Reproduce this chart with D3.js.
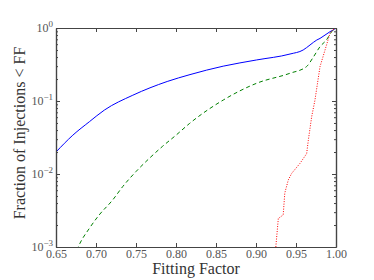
<!DOCTYPE html>
<html>
<head>
<meta charset="utf-8">
<script src="https://cdn.jsdelivr.net/npm/d3@7"></script>
<style>
  body { margin: 0; background: #fff; }
</style>
</head>
<body>
<div id="vis"></div>
<script>
// fitting factor curves
var blueX = [0.65, 0.671, 0.6917, 0.7104, 0.746, 0.789, 0.8175, 0.859, 0.9008, 0.9425, 0.959, 0.9675, 0.976, 0.98, 0.9925, 0.9966, 1.0];
var blueY = [0.020, 0.034, 0.052, 0.075, 0.12, 0.185, 0.23, 0.30, 0.365, 0.44, 0.50, 0.585, 0.685, 0.72, 0.89, 0.94, 1.0];

var greenX = [0.676, 0.679, 0.6917, 0.704, 0.7208, 0.7333, 0.75, 0.7667, 0.7833, 0.80, 0.8167, 0.859, 0.9008, 0.9425, 0.963, 0.9717, 0.98, 0.988, 0.9946, 1.0];
var greenY = [0.0009, 0.00107, 0.0018, 0.00275, 0.0044, 0.0067, 0.0108, 0.0164, 0.024, 0.034, 0.049, 0.103, 0.175, 0.24, 0.295, 0.40, 0.555, 0.685, 0.89, 1.0];

var redX = [0.9248, 0.925, 0.9279, 0.934, 0.936, 0.9404, 0.9446, 0.955, 0.9633, 0.9654, 0.9696, 0.9737, 0.98, 0.9863, 0.9925, 0.9958, 1.0];
var redY = [0.001, 0.00107, 0.00246, 0.00275, 0.0055, 0.0083, 0.0102, 0.014, 0.019, 0.029, 0.061, 0.103, 0.295, 0.50, 0.845, 0.94, 1.0];

var xTicks = [0.65, 0.70, 0.75, 0.80, 0.85, 0.90, 0.95, 1.00];
var yTicks = [1e-3, 1e-2, 1e-1, 1];
var yExp = ["\u22123", "\u22122", "\u22121", "0"];

var width = 374, height = 280;
var margin = {top: 28, right: 38, bottom: 33, left: 56};
var serif = "Liberation Serif";

var svg = d3.select("#vis").append("svg").attr("width", width).attr("height", height);

var x = d3.scaleLinear().domain([0.65, 1.0]).range([margin.left, width - margin.right]);
var y = d3.scaleLog().domain([1e-3, 1]).range([height - margin.bottom, margin.top]);

//clip for curves
svg.append("clipPath").attr("id", "clip").append("rect")
    .attr("x", margin.left).attr("y", margin.top)
    .attr("width", width - margin.left - margin.right)
    .attr("height", height - margin.top - margin.bottom);

function zip(a, b) {
    return a.map((v, i) => [v, b[i]]);
}

var series = [
    {data: zip(blueX, blueY), color: "#0000ff", dash: null, curve: d3.curveMonotoneX},
    {data: zip(greenX, greenY), color: "#008000", dash: "4,3", curve: d3.curveMonotoneX},
    {data: zip(redX, redY), color: "#ff0000", dash: "1,1.5", curve: d3.curveLinear}
];

var plot = svg.append("g").attr("clip-path", "url(#clip)");
series.forEach(s => {
    var line = d3.line().x(d => x(d[0])).y(d => y(d[1])).curve(s.curve);
    plot.append("path")
        .attr("d", line(s.data))
        .attr("fill", "none")
        .attr("stroke", s.color)
        .attr("stroke-width", 1)
        .attr("stroke-dasharray", s.dash);
});

//minor ticks on log axis
var minor = [];
for (var e = -3; e < 0; e++) {
    for (var m = 2; m < 10; m++) minor.push(m * Math.pow(10, e));
}

var axisColor = "#444";

var bottom = svg.append("g").attr("transform", "translate(0," + (height - margin.bottom) + ")")
    .call(d3.axisBottom(x).tickValues(xTicks).tickFormat(d3.format(".2f")).tickSizeInner(-4).tickSizeOuter(0).tickPadding(2));
svg.append("g").attr("transform", "translate(0," + margin.top + ")")
    .call(d3.axisTop(x).tickValues(xTicks).tickFormat("").tickSizeInner(-4).tickSizeOuter(0));

svg.append("g").attr("transform", "translate(" + margin.left + ",0)")
    .call(d3.axisLeft(y).tickValues(yTicks).tickFormat("").tickSizeInner(-4).tickSizeOuter(0));
svg.append("g").attr("transform", "translate(" + margin.left + ",0)")
    .call(d3.axisLeft(y).tickValues(minor).tickFormat("").tickSizeInner(-2).tickSizeOuter(0));
svg.append("g").attr("transform", "translate(" + (width - margin.right) + ",0)")
    .call(d3.axisRight(y).tickValues(yTicks).tickFormat("").tickSizeInner(-4).tickSizeOuter(0));
svg.append("g").attr("transform", "translate(" + (width - margin.right) + ",0)")
    .call(d3.axisRight(y).tickValues(minor).tickFormat("").tickSizeInner(-2).tickSizeOuter(0));

svg.selectAll(".domain").attr("stroke", axisColor).attr("stroke-width", 1.2);
svg.selectAll(".tick line").attr("stroke", axisColor);
bottom.selectAll("text").attr("font-size", 12).attr("fill", "#555").style("font-family", serif);

//y tick labels with exponents
yTicks.forEach((t, i) => {
    var txt = svg.append("text")
        .attr("x", margin.left - 3)
        .attr("y", y(t) + 4)
        .attr("text-anchor", "end")
        .attr("font-size", 12)
        .style("font-family", serif)
        .attr("fill", "#555");
    txt.append("tspan").text("10");
    txt.append("tspan").attr("dy", -5).attr("font-size", 9).text(yExp[i]);
});

//axis labels
svg.append("text")
    .attr("x", (margin.left + width - margin.right) / 2)
    .attr("y", 274)
    .attr("text-anchor", "middle")
    .attr("font-size", 16)
    .style("font-family", serif)
    .attr("fill", "#333")
    .text("Fitting Factor");

svg.append("text")
    .attr("transform", "translate(25," + 133 + ") rotate(-90)")
    .attr("text-anchor", "middle")
    .attr("font-size", 16)
    .style("font-family", serif)
    .attr("fill", "#333")
    .text("Fraction of Injections < FF");
</script>
</body>
</html>
